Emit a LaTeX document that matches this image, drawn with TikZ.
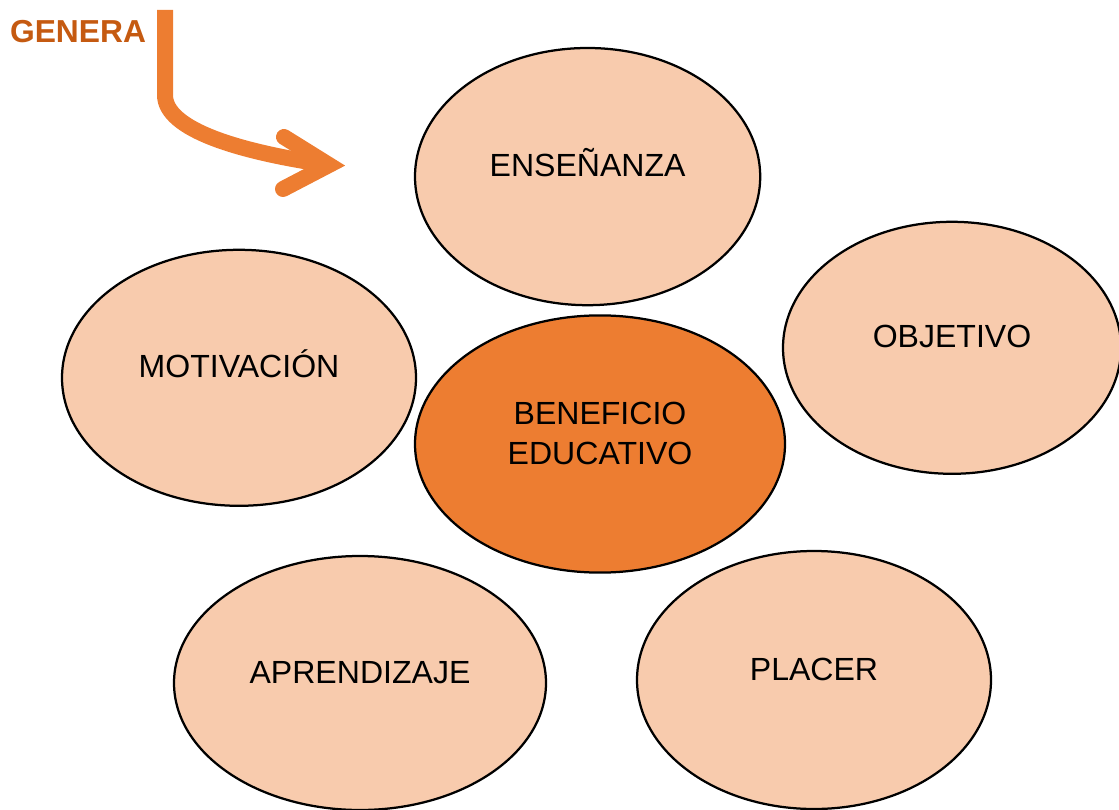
\documentclass[tikz,border=0pt]{standalone}
\usepackage{fontspec}
\setmainfont{Liberation Sans}
\usetikzlibrary{shapes.geometric}

\definecolor{peach}{HTML}{F8CBAD}
\definecolor{naranja}{HTML}{ED7D31}
\definecolor{oscuro}{HTML}{C55A11}

\tikzset{
    bubble/.style={ellipse, draw=black, line width=1.6pt, fill=peach, inner sep=0pt,
        font=\fontsize{22.8}{28.4}\selectfont, text height=0.6cm, text depth=0.6cm},
    core/.style={bubble, fill=naranja, align=center, text height=1.6cm, text depth=0.6cm},
    flecha/.style={naranja, line width=0.4cm}
}

\begin{document}
\begin{tikzpicture}

    \useasboundingbox (0,0) rectangle (27.975,20.225);

    \node[bubble, minimum width=8.63cm, minimum height=6.43cm] (ensenanza) at (14.69,15.81) {ENSEÑANZA};
    \node[bubble, minimum width=8.45cm, minimum height=6.3cm] (objetivo) at (23.8,11.53) {OBJETIVO};
    \node[bubble, minimum width=8.85cm, minimum height=6.4cm] (motivacion) at (5.975,10.78) {MOTIVACIÓN};
    \node[core, minimum width=9.25cm, minimum height=6.43cm] (beneficio) at (15.0,9.125) {BENEFICIO\\EDUCATIVO};
    \node[bubble, minimum width=9.3cm, minimum height=6.35cm] (aprendizaje) at (9.0,3.15) {APRENDIZAJE};
    \node[bubble, minimum width=8.85cm, minimum height=6.45cm] (placer) at (20.35,3.225) {PLACER};

    \node[text=oscuro, font=\bfseries\fontsize{22.6}{27}\selectfont] (genera) at (1.95,19.425) {GENERA};

    % flecha curva hacia ENSEÑANZA
    \coordinate (inicio) at (4.125,19.975);
    \coordinate (codo) at (4.125,17.85);
    \coordinate (punta) at (8.225,16.1);
    \draw[flecha] (inicio) -- (codo) .. controls (4.125,16.975) and (6.0,16.425) .. (punta);
    \draw[flecha, line cap=round, line join=miter] (7.1,16.8) -- (punta) -- (7.075,15.5);

\end{tikzpicture}
\end{document}
